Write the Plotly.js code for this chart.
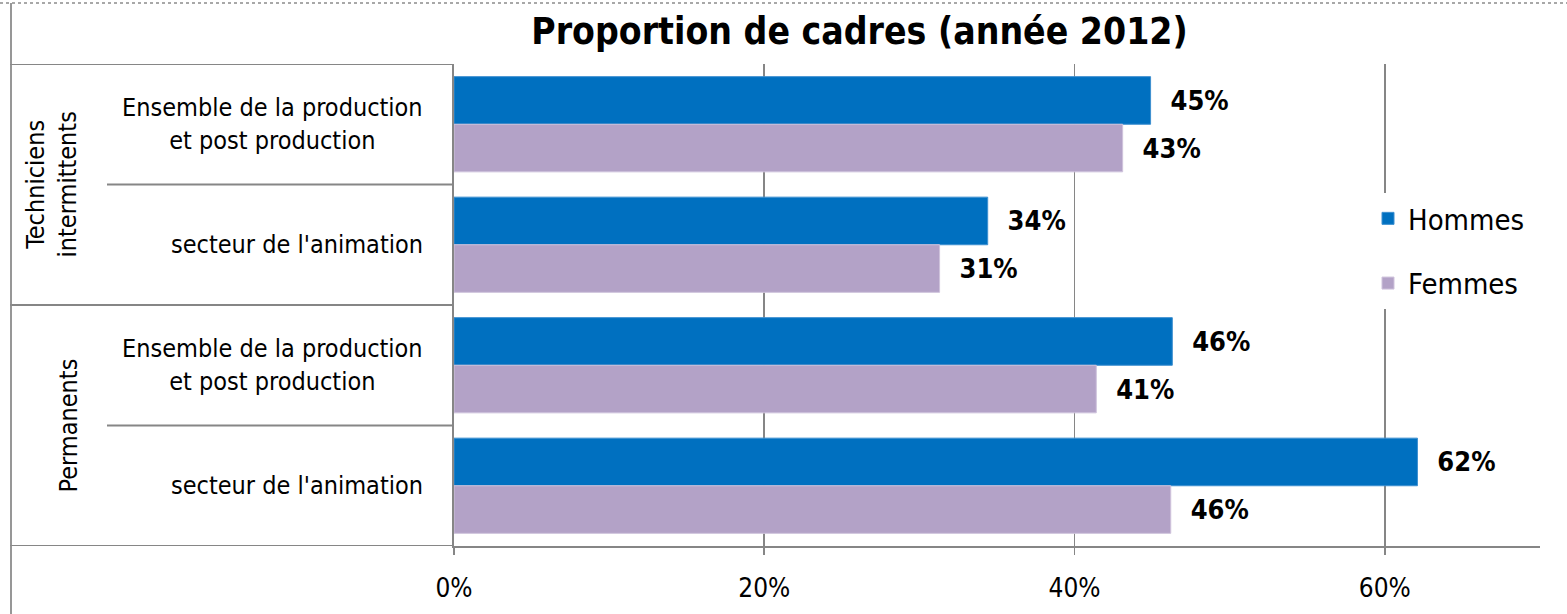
<!DOCTYPE html>
<html>
<head>
<meta charset="utf-8">
<script src="https://cdn.plot.ly/plotly-3.0.1.min.js"></script>
<style>
html,body{margin:0;padding:0;background:#fff;}
#chart{width:1567px;height:614px;}
</style>
</head>
<body>
<div id="chart"></div>
<script>
// ---- data ----
const groups = ["Techniciens<br>intermittents", "Permanents"];
const groupOf = [0, 0, 1, 1];
const subcats = [
  "Ensemble de la production<br>et post production",
  "secteur de l'animation",
  "Ensemble de la production<br>et post production",
  "secteur de l'animation"
];
const hommes = [0.449, 0.344, 0.463, 0.621];
const femmes = [0.431, 0.313, 0.414, 0.462];
const seriesNames = ["Hommes", "Femmes"];
const xTicks = [0, 0.2, 0.4, 0.6];
const xTickLabels = ["0%", "20%", "40%", "60%"];
const titleText = "Proportion de cadres (année 2012)";

// ---- styling ----
const FONT = "DejaVu Sans Condensed, DejaVu Sans, sans-serif";
const GRID = "#868686";
const pos = subcats.map((_, i) => i);

const traces = [
  {type: "bar", orientation: "h", name: seriesNames[0], y: pos, x: hommes,
   marker: {color: "#0070C0", line: {color: "#3d8fd0", width: 1}},
   texttemplate: "\u00a0\u00a0%{x:.0%}", textposition: "outside", cliponaxis: false,
   textfont: {family: FONT, size: 27, color: "#000", weight: "bold"},
   hoverinfo: "skip", legendgroup: "h"},
  {type: "bar", orientation: "h", name: seriesNames[1], y: pos, x: femmes,
   marker: {color: "#B3A2C7", line: {color: "#cfc3dc", width: 1}},
   texttemplate: "\u00a0\u00a0%{x:.0%}", textposition: "outside", cliponaxis: false,
   textfont: {family: FONT, size: 27, color: "#000", weight: "bold"},
   hoverinfo: "skip", legendgroup: "f"}
];

const L = 454, R = 27, T = 64, B = 68;
const W = 1567, H = 614;
const pw = W - L - R, ph = H - T - B;
const px2x = p => (p - L) / pw;           // page px -> paper x
const py2y = p => 1 - (p - T) / ph;       // page px -> paper y

const shapes = [];
const lineStyle = {color: GRID, width: 1.8};
// divider lines in the category area
const bounds = [-0.5, 0.5, 1.5, 2.5, 3.5];
bounds.forEach((b, i) => {
  const full = (i % 2 === 0);
  shapes.push({type: "line", xref: "paper", yref: "y",
    x0: full ? px2x(10) : px2x(107), x1: 0, y0: b, y1: b, line: lineStyle});
});
// outer chart border (left + top)
shapes.push({type: "line", xref: "paper", yref: "paper",
  x0: px2x(11), x1: px2x(11), y0: py2y(3), y1: py2y(H + 2), line: {color: "#8c8c8c", width: 1.8}});
shapes.push({type: "line", xref: "paper", yref: "paper",
  x0: px2x(0), x1: px2x(W), y0: py2y(3), y1: py2y(3), line: {color: "#a8a8a8", width: 2, dash: "dot"}});

const annotations = [];
subcats.forEach((s, i) => {
  annotations.push({xref: "paper", yref: "y", x: px2x(425), y: pos[i], text: s,
    xanchor: "right", yanchor: "middle", align: "center", showarrow: false,
    font: {family: FONT, size: 25, color: "#000"}});
});
groups.forEach((g, gi) => {
  const idx = groupOf.map((v, i) => v === gi ? i : -1).filter(i => i >= 0);
  const yc = (pos[idx[0]] + pos[idx[idx.length - 1]]) / 2;
  annotations.push({xref: "paper", yref: "y", x: px2x(gi === 0 ? 51 : 68), y: yc,
    text: g, textangle: -90, xanchor: "center", yanchor: "middle", align: "center",
    showarrow: false, font: {family: FONT, size: 25, color: "#000"}});
});

const layout = {
  width: W, height: H,
  margin: {l: L, r: R, t: T, b: B, pad: 0},
  paper_bgcolor: "#fff", plot_bgcolor: "#fff",
  font: {family: FONT, color: "#000"},
  title: {text: "<b>" + titleText + "</b>", xref: "container", yref: "container",
    x: 859.5 / W, xanchor: "center", y: 1 - 31 / H, yanchor: "middle",
    font: {family: FONT, size: 37, color: "#000"}},
  barmode: "group", bargap: 0.21, bargroupgap: 0,
  xaxis: {range: [0, 0.7], tickvals: xTicks, ticktext: xTickLabels,
    showgrid: true, gridcolor: GRID, gridwidth: 1.8,
    showline: true, linecolor: GRID, linewidth: 1.8,
    ticks: "outside", ticklen: 7, tickcolor: GRID, tickwidth: 1.8,
    ticklabelstandoff: 11,
    tickfont: {family: FONT, size: 26, color: "#000"}, zeroline: false,
    fixedrange: true},
  yaxis: {range: [3.5, -0.5], showticklabels: false, showgrid: false, zeroline: false,
    showline: true, linecolor: GRID, linewidth: 1.8, ticks: "", fixedrange: true},
  legend: {x: px2x(1368), xanchor: "left", y: py2y(193), yanchor: "top",
    bgcolor: "#fff", borderwidth: 0, traceorder: "grouped", tracegroupgap: 24,
    font: {family: FONT, size: 29, color: "#000"}},
  shapes: shapes,
  annotations: annotations,
  showlegend: true
};

Plotly.newPlot("chart", traces, layout, {staticPlot: true, displayModeBar: false});
</script>
</body>
</html>
